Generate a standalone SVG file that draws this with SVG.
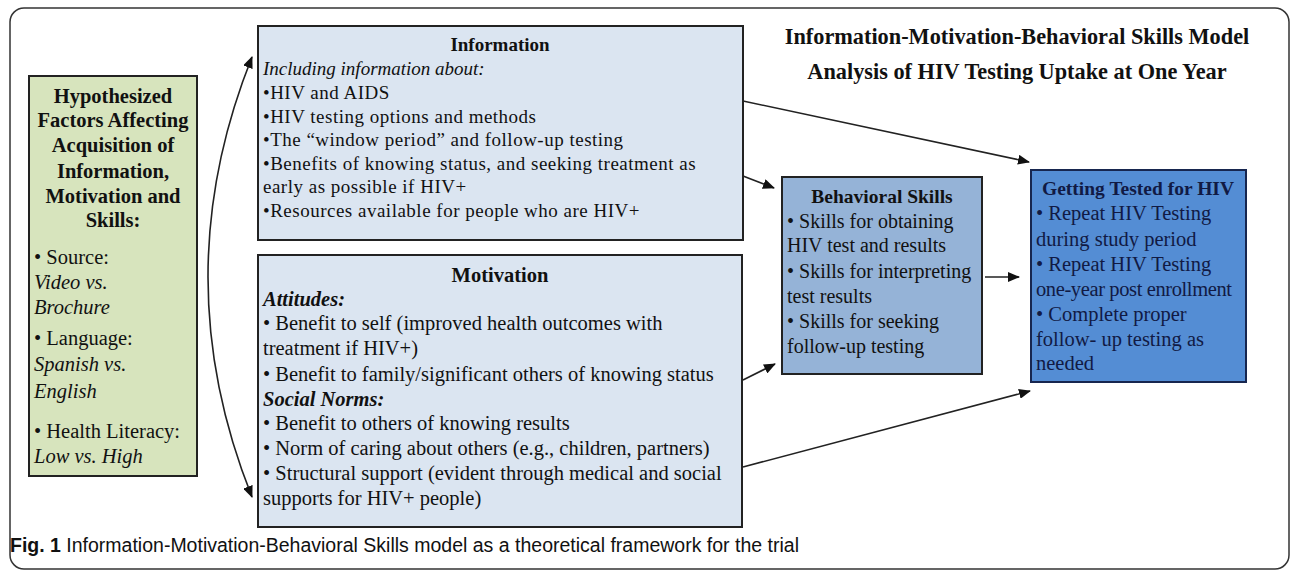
<svg xmlns="http://www.w3.org/2000/svg" width="1292" height="574" viewBox="0 0 1292 574">
<style>
.t{font-family:"Liberation Serif","Times New Roman",serif;fill:#111}
.b{font-weight:bold}
.i{font-style:italic}
.box{stroke:#222;stroke-width:2}
.con{fill:none;stroke:#222;stroke-width:1.6}
.gt{fill:#111a44}
</style>
<defs>
<marker id="ah" viewBox="0 0 12 10" refX="11" refY="5" markerWidth="12" markerHeight="10" markerUnits="userSpaceOnUse" orient="auto-start-reverse">
<path d="M0,0 L12,5 L0,10 Z" fill="#111"/>
</marker>
</defs>
<rect width="1292" height="574" fill="#fff"/>
<rect x="10" y="8" width="1279" height="561" rx="14" fill="none" stroke="#333" stroke-width="1.5"/>

<g id="title">
<text class="t b" x="1017" y="44" font-size="22.3" text-anchor="middle">Information-Motivation-Behavioral Skills Model</text>
<text class="t b" x="1017" y="79" font-size="22.3" text-anchor="middle">Analysis of HIV Testing Uptake at One Year</text>
</g>

<g id="factors">
<rect class="box" x="29" y="76" width="168" height="400" fill="#d7e4bd"/>
<g class="t b" font-size="20.5" text-anchor="middle">
<text x="113" y="103">Hypothesized</text>
<text x="113" y="127">Factors Affecting</text>
<text x="113" y="152">Acquisition of</text>
<text x="113" y="178">Information,</text>
<text x="113" y="203">Motivation and</text>
<text x="113" y="227">Skills:</text>
</g>
<g class="t" font-size="20.5">
<text x="34" y="264">• Source:</text>
<text class="i" x="34" y="289">Video vs.</text>
<text class="i" x="34" y="314">Brochure</text>
<text x="34" y="345">• Language:</text>
<text class="i" x="34" y="371">Spanish vs.</text>
<text class="i" x="34" y="398">English</text>
<text x="34" y="438">• Health Literacy:</text>
<text class="i" x="34" y="463">Low vs.  High</text>
</g>
</g>

<g id="information">
<rect class="box" x="258" y="26" width="485" height="214" fill="#dbe5f1"/>
<text class="t b" x="500" y="51" font-size="19" text-anchor="middle">Information</text>
<g class="t" font-size="19" letter-spacing="0.5">
<text class="i" x="263" y="75" letter-spacing="0">Including information about:</text>
<text x="263" y="99">•HIV and AIDS</text>
<text x="263" y="123">•HIV testing options and methods</text>
<text x="263" y="146">•The “window period” and follow-up testing</text>
<text x="263" y="170">•Benefits of knowing status, and seeking treatment as</text>
<text x="263" y="193">early as possible if HIV+</text>
<text x="263" y="217">•Resources available for people who are HIV+</text>
</g>
</g>

<g id="motivation">
<rect class="box" x="258" y="255" width="484" height="272" fill="#dbe5f1"/>
<text class="t b" x="500" y="282" font-size="20.5" text-anchor="middle">Motivation</text>
<g class="t" font-size="20.5">
<text class="b i" x="263" y="306">Attitudes:</text>
<text x="263" y="330">• Benefit to self (improved health outcomes with</text>
<text x="263" y="355">treatment if HIV+)</text>
<text x="263" y="381">• Benefit to family/significant others of knowing status</text>
<text class="b i" x="263" y="406">Social Norms:</text>
<text x="263" y="430">• Benefit to others of knowing results</text>
<text x="263" y="455">• Norm of caring about others (e.g., children, partners)</text>
<text x="263" y="480">• Structural support (evident through medical and social</text>
<text x="263" y="505">supports for HIV+ people)</text>
</g>
</g>

<g id="behavioral">
<rect class="box" x="782" y="177" width="200" height="197" fill="#95b3d7"/>
<text class="t b" x="882" y="203" font-size="19.5" text-anchor="middle">Behavioral Skills</text>
<g class="t" font-size="20">
<text x="787" y="228">• Skills for obtaining</text>
<text x="787" y="252">HIV test and results</text>
<text x="787" y="278">• Skills for interpreting</text>
<text x="787" y="303">test results</text>
<text x="787" y="328">• Skills for seeking</text>
<text x="787" y="353">follow-up testing</text>
</g>
</g>

<g id="tested">
<rect x="1031" y="170" width="215" height="212" fill="#548dd4" stroke="#17264f" stroke-width="2"/>
<text class="t b gt" x="1138" y="195" font-size="19.5" text-anchor="middle">Getting Tested for HIV</text>
<g class="t gt" font-size="20.5">
<text x="1036" y="220">• Repeat HIV Testing</text>
<text x="1036" y="246">during study period</text>
<text x="1036" y="271">• Repeat HIV Testing</text>
<text x="1036" y="296" textLength="196" lengthAdjust="spacing">one-year post enrollment</text>
<text x="1036" y="321">• Complete proper</text>
<text x="1036" y="346">follow- up testing as</text>
<text x="1036" y="370">needed</text>
</g>
</g>

<g id="connectors">
<path class="con" d="M252,57 Q164,277 252,497" marker-start="url(#ah)" marker-end="url(#ah)"/>
<path class="con" d="M743,101 L1029,162" marker-end="url(#ah)"/>
<path class="con" d="M743,176 L774,188" marker-end="url(#ah)"/>
<path class="con" d="M743,380 L775,364" marker-end="url(#ah)"/>
<path class="con" d="M743,467 L1030,391" marker-end="url(#ah)"/>
<path class="con" d="M985,277 L1019,277" marker-end="url(#ah)"/>
</g>

<g id="caption">
<text x="10" y="552" font-family="'Liberation Sans',Arial,sans-serif" font-size="19.5" fill="#111"><tspan font-weight="bold">Fig. 1</tspan> Information-Motivation-Behavioral Skills model as a theoretical framework for the trial</text>
</g>
</svg>
